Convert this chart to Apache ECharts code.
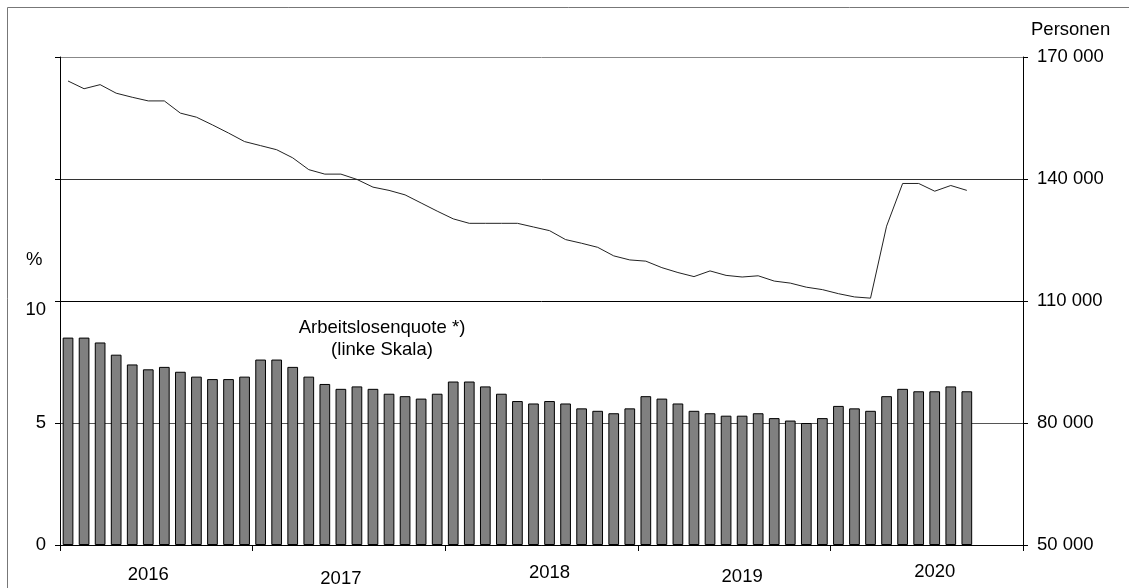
<!DOCTYPE html>
<html>
<head>
<meta charset="utf-8">
<script src="https://cdn.jsdelivr.net/npm/echarts@6/dist/echarts.min.js"></script>
<style>
html,body{margin:0;padding:0;background:#fff;}
#chart{width:1129px;height:588px;}
</style>
</head>
<body>
<div id="chart"></div>
<script>
// ---- data ----
const years = ['2016', '2017', '2018', '2019', '2020'];
const rate = [
  8.5, 8.5, 8.3, 7.8, 7.4, 7.2, 7.3, 7.1, 6.9, 6.8, 6.8, 6.9,
  7.6, 7.6, 7.3, 6.9, 6.6, 6.4, 6.5, 6.4, 6.2, 6.1, 6.0, 6.2,
  6.7, 6.7, 6.5, 6.2, 5.9, 5.8, 5.9, 5.8, 5.6, 5.5, 5.4, 5.6,
  6.1, 6.0, 5.8, 5.5, 5.4, 5.3, 5.3, 5.4, 5.2, 5.1, 5.0, 5.2,
  5.7, 5.6, 5.5, 6.1, 6.4, 6.3, 6.3, 6.5, 6.3
];
const persons = [
  164100, 162200, 163200, 161100, 160100, 159200, 159200, 156200, 155200, 153300, 151300, 149200,
  148200, 147200, 145200, 142300, 141200, 141200, 139900, 138000, 137200, 136100, 134100, 132100,
  130200, 129100, 129100, 129100, 129100, 128200, 127300, 125100, 124200, 123200, 121100, 120100,
  119800, 118200, 117000, 116000, 117400, 116300, 115900, 116200, 114900, 114400, 113400, 112800,
  111800, 111000, 110700, 128400, 138900, 138900, 137000, 138400, 137200
];
const leftTicks = ['0', '5', '10'];
const seriesLabel = ['Arbeitslosenquote *)', '(linke Skala)'];
const rightUnit = 'Personen';
const leftUnit = '%';

// 60 monthly categories, Jan 2016 - Dec 2020
const months = [];
years.forEach(y => { for (let m = 1; m <= 12; m++) months.push(y + '-' + String(m).padStart(2, '0')); });

// ---- chart ----
const FONT = "'Liberation Sans', Arial, sans-serif";
const FS = 18.5;
const yearLabelIdx = [5, 17, 30, 42, 54];
const yearPad = [8, 12, 6, 10, 5];

const chart = echarts.init(document.getElementById('chart'), null, {renderer: 'canvas'});
const richYears = {};
yearPad.forEach((p, k) => { richYears['y' + k] = {fontSize: FS, fontFamily: FONT, color: '#000', padding: [p, 0, 0, 0]}; });

chart.setOption({
  animation: false,
  backgroundColor: '#fff',
  grid: {left: 60, right: 106, top: 57, bottom: 41.5, containLabel: false},
  graphic: [
    {type: 'rect', left: 5, top: 5, shape: {x: 0, y: 0, width: 1300, height: 800}, style: {fill: 'none', stroke: '#777', lineWidth: 1}, silent: true, z: -10},
    {type: 'text', left: 26, top: 250, style: {text: leftUnit, fontSize: FS, fontFamily: FONT, fill: '#000'}},
    {type: 'text', left: 1031, top: 20, style: {text: rightUnit, fontSize: FS, fontFamily: FONT, fill: '#000'}},
    {type: 'text', x: 382, y: 317, style: {text: seriesLabel.join('\n'), fontSize: FS, lineHeight: 22, fontFamily: FONT, fill: '#000', align: 'center', verticalAlign: 'top'}}
  ],
  xAxis: {
    type: 'category',
    data: months,
    boundaryGap: true,
    axisLine: {lineStyle: {color: '#000', width: 1}},
    axisTick: {show: true, interval: (i) => i % 12 === 0, length: 6, lineStyle: {color: '#000'}},
    axisLabel: {
      interval: (i) => yearLabelIdx.indexOf(i) >= 0,
      margin: 12,
      fontSize: FS, fontFamily: FONT, color: '#000',
      formatter: (v, i) => {
        const k = yearLabelIdx.indexOf(i);
        return k >= 0 ? '{y' + k + '|' + years[k] + '}' : '';
      },
      rich: richYears
    },
    splitLine: {show: false}
  },
  yAxis: [
    {
      type: 'value', min: 0, max: 20, interval: 5, position: 'left',
      axisLine: {show: true, lineStyle: {color: '#000'}},
      axisTick: {show: true, length: 5, lineStyle: {color: '#000'}},
      axisLabel: {
        margin: 14, fontSize: FS, fontFamily: FONT, color: '#000',
        formatter: (v) => {
          const s = String(v);
          if (leftTicks.indexOf(s) < 0) return '';
          return s === '10' ? '{t|' + s + '}' : s;
        },
        rich: {t: {fontSize: FS, fontFamily: FONT, color: '#000', padding: [18, 0, 0, 0]}}
      },
      splitLine: {show: true, showMinLine: true, showMaxLine: true, lineStyle: {color: ['#000', '#555', '#000', '#333', '#888'], width: 1}}
    },
    {
      type: 'value', min: 50000, max: 170000, interval: 30000, position: 'right',
      axisLine: {show: true, lineStyle: {color: '#000'}},
      axisTick: {show: true, length: 5, lineStyle: {color: '#000'}},
      axisLabel: {
        margin: 14, fontSize: FS, fontFamily: FONT, color: '#000',
        formatter: (v) => String(v).replace(/\B(?=(\d{3})+(?!\d))/g, ' ')
      },
      splitLine: {show: false}
    }
  ],
  series: [
    {
      type: 'bar', data: rate, yAxisIndex: 0, barWidth: '66.7%',
      itemStyle: {color: '#808080', borderColor: '#000', borderWidth: 1},
      z: 2
    },
    {
      type: 'line', data: persons, yAxisIndex: 1, showSymbol: false, symbol: 'none',
      lineStyle: {color: '#222', width: 1}, z: 3
    }
  ]
});
</script>
</body>
</html>
